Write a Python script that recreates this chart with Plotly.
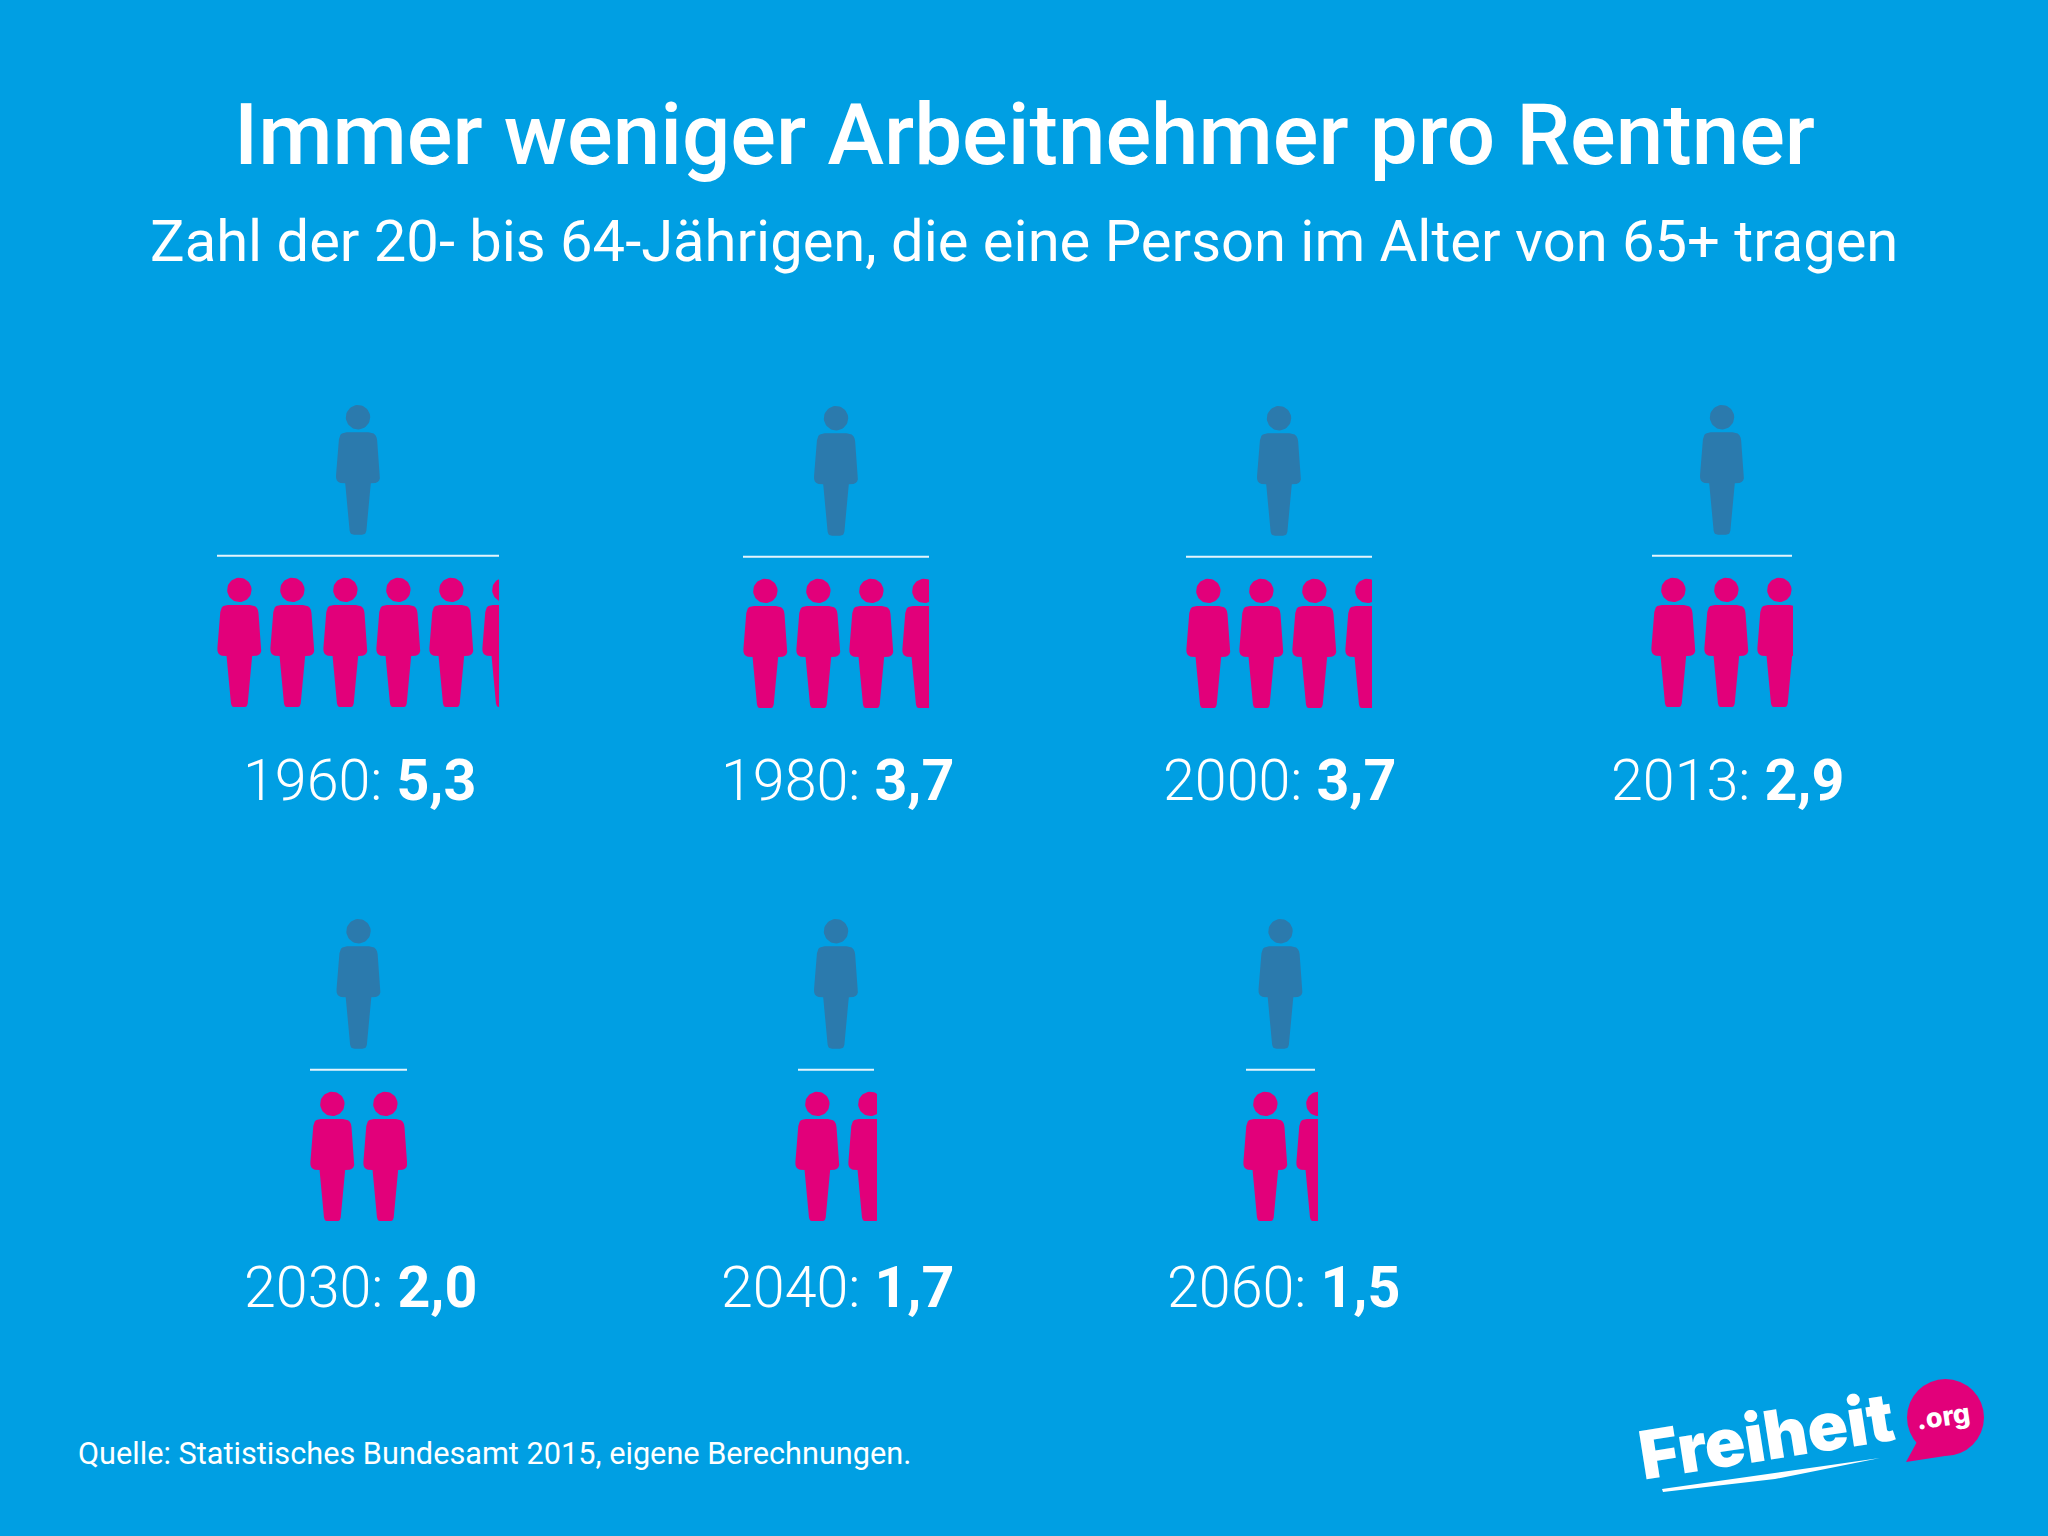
import numpy as np
import plotly.graph_objects as go

# values
years = [1960, 1980, 2000, 2013, 2030, 2040, 2060]
ratios = [5.3, 3.7, 3.7, 2.9, 2.0, 1.7, 1.5]

# where each pictogram sits on the page, in pixels
panel_left = [217, 743, 1186, 1651, 310, 795, 1243]
panel_width = [282, 186, 186, 142, 97, 82, 75]
panel_top = [405, 406, 406, 405, 919, 919, 919]
line_inset = [0, 0, 0, 1, 0, 3, 3]
label_cx = [359, 837, 1279, 1727, 360, 837, 1283]
label_cy = [780, 780, 780, 780, 1287, 1287, 1287]

W, H = 2048, 1536
BG = "#009FE3"
PINK = "#E2007A"
DARK = "#2B7AAD"
PITCH = 53.0
PANEL_H = 302.0
PINK_Y = 172.7
LINE_Y = 150.7


def rounded(points, radii, steps=6):
    # polygon with quadratic corners
    out = []
    n = len(points)
    for i in range(n):
        p = np.array(points[i], float)
        a = np.array(points[i - 1], float)
        b = np.array(points[(i + 1) % n], float)
        r = radii[i]
        if r == 0:
            out.append(tuple(p))
            continue
        s = p + (a - p) / np.linalg.norm(a - p) * r
        e = p + (b - p) / np.linalg.norm(b - p) * r
        for t in np.linspace(0, 1, steps):
            out.append(tuple((1 - t) ** 2 * s + 2 * t * (1 - t) * p + t**2 * e))
    return out


# one person, pixels from the top centre of the figure
body = rounded(
    [(-18.5, 27.3), (18.5, 27.3), (22.6, 78.3), (12.8, 78.3), (8.0, 129.7),
     (-8.0, 129.7), (-12.8, 78.3), (-22.6, 78.3)],
    [7, 8, 8, 0, 4, 4, 0, 8],
)
angle = np.linspace(0, 2 * np.pi, 50)
head_x = list(12.2 * np.cos(angle))
head_y = list(12.2 + 12.2 * np.sin(angle))
person_x = [p[0] for p in body] + [body[0][0], None] + head_x
person_y = [p[1] for p in body] + [body[0][1], None] + head_y


def person(cx, top):
    # cx is in persons along the panel's x axis
    xs = [None if v is None else cx + v / PITCH for v in person_x]
    ys = [None if v is None else top + v for v in person_y]
    return xs, ys


def page_x(v):
    return v / W


def page_y(v):
    return 1 - v / H


fig = go.Figure()
layout_axes = {}


def text(x, y, s, size, weight=400, anchor="center", angle=0, family="Roboto"):
    fig.add_annotation(
        x=page_x(x), y=page_y(y), xref="paper", yref="paper", text=s, showarrow=False,
        xanchor=anchor, yanchor="middle", textangle=angle,
        font=dict(family=family, size=size, color="white", weight=weight),
    )


for i, (year, ratio) in enumerate(zip(years, ratios)):
    n = i + 1
    span = panel_width[i] / PITCH
    layout_axes[f"xaxis{n}"] = dict(
        domain=[page_x(panel_left[i]), page_x(panel_left[i] + panel_width[i])],
        range=[0, span], visible=False, fixedrange=True, anchor=f"y{n}",
    )
    layout_axes[f"yaxis{n}"] = dict(
        domain=[page_y(panel_top[i] + PANEL_H), page_y(panel_top[i])],
        range=[PANEL_H, 0], visible=False, fixedrange=True, anchor=f"x{n}",
    )

    xs, ys = person(span / 2, 0)
    fig.add_trace(go.Scatter(
        x=xs, y=ys, xaxis=f"x{n}", yaxis=f"y{n}", mode="lines", fill="toself",
        fillcolor=DARK, line=dict(width=0), hoverinfo="skip", showlegend=False,
    ))

    inset = line_inset[i] / PITCH
    fig.add_trace(go.Scatter(
        x=[inset, span - inset], y=[LINE_Y, LINE_Y], xaxis=f"x{n}", yaxis=f"y{n}",
        mode="lines", line=dict(color="#E4F4FC", width=2),
        hoverinfo="skip", showlegend=False,
    ))

    # the last figure gets cut off by the axis range
    pink_x, pink_y = [], []
    for k in range(int(np.ceil(ratio))):
        xs, ys = person(k + 22.35 / PITCH, PINK_Y)
        pink_x += xs + [None]
        pink_y += ys + [None]
    fig.add_trace(go.Scatter(
        x=pink_x, y=pink_y, xaxis=f"x{n}", yaxis=f"y{n}", mode="lines", fill="toself",
        fillcolor=PINK, line=dict(width=0), hoverinfo="skip", showlegend=False,
    ))

    text(label_cx[i], label_cy[i], f"{year}: <b>{str(ratio).replace('.', ',')}</b>", 57.4, 300)


text(1024, 135, "Immer weniger Arbeitnehmer pro Rentner", 85.3, 500)
text(1024, 241, "Zahl der 20- bis 64-Jährigen, die eine Person im Alter von 65+ tragen", 57.9)
text(75.5, 1453, "Quelle: Statistisches Bundesamt 2015, eigene Berechnungen.", 30.7, anchor="left")

# logo
fig.add_shape(
    type="circle", xref="paper", yref="paper", line_width=0, fillcolor=PINK,
    x0=page_x(1907), x1=page_x(1984), y0=page_y(1456), y1=page_y(1379),
)
fig.add_shape(
    type="path", xref="paper", yref="paper", line_width=0, fillcolor=PINK,
    path=f"M {page_x(1906)} {page_y(1462)} L {page_x(1918)} {page_y(1440)} "
         f"L {page_x(1945)} {page_y(1456)} Z",
)
fig.add_shape(
    type="path", xref="paper", yref="paper", line_width=0, fillcolor="white",
    path=f"M {page_x(1662)} {page_y(1489)} L {page_x(1880)} {page_y(1458)} "
         f"L {page_x(1775)} {page_y(1479)} L {page_x(1663)} {page_y(1492)} Z",
)
text(1766, 1435, "Freiheit", 67, 900, angle=-9, family="Inter")
text(1943, 1416, ".org", 27, 800, angle=-8, family="Inter")

fig.update_layout(
    width=W, height=H, margin=dict(l=0, r=0, t=0, b=0),
    paper_bgcolor=BG, plot_bgcolor="rgba(0,0,0,0)", showlegend=False,
    **layout_axes,
)

fig.write_html("out.html", config={"displayModeBar": False},
               post_script="document.body.style.margin='0';")
